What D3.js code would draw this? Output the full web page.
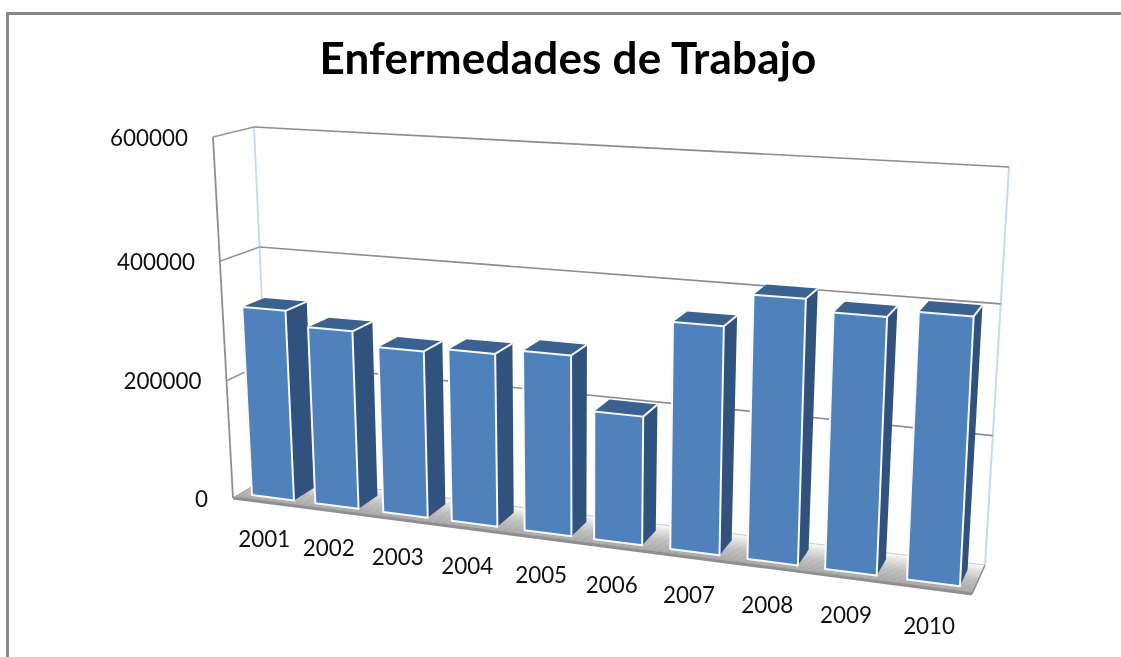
<!DOCTYPE html>
<html><head><meta charset="utf-8">
<style>html,body{margin:0;padding:0;background:#fff;overflow:hidden}svg{display:block;filter:blur(0.45px)}text{font-family:Lato,"Open Sans",sans-serif;fill:#111}</style>
<script src="https://cdn.jsdelivr.net/npm/d3@7/dist/d3.min.js"></script>
</head><body><svg id="c" width="1121" height="657"></svg>
<script>
const titleText = "Enfermedades de Trabajo";
const categories = ["2001","2002","2003","2004","2005","2006","2007","2008","2009","2010"];
const values = [320000,296000,274000,281000,290000,205000,357000,409000,392000,403000];
const yTicks = [0,200000,400000,600000];

const svg = d3.select("#c");
// Cube corners of the 3D plot box on the picture: [category side, depth, height]
const cube = {
  "000":[233,498],"100":[972,594],"110":[985,565],"010":[270,476],
  "001":[213,137],"101":[993,182],"111":[1009,167],"011":[254,127]
};
// perspective along the category axis: bar centres and half-widths as fractions of the box width
const uScale = d3.scaleLinear().domain(d3.range(categories.length))
  .range([.0444,.1315,.2249,.319,.419,.5145,.619,.725,.8315,.944]);
const halfScale = d3.scaleLinear().domain([0,categories.length-1]).range([.0286,.036]);
const hScale = d3.scaleLinear().domain(yTicks).range([0,0.325,0.656,1]);
function project(u,v,h){
  const out=[0,0];
  for(const a of [0,1])for(const b of [0,1])for(const c of [0,1]){
    const w=(a?u:1-u)*(b?v:1-v)*(c?h:1-h), p=cube[""+a+b+c];
    out[0]+=w*p[0]; out[1]+=w*p[1];
  }
  return out;
}
const poly = pts => "M"+pts.map(p=>p.join(",")).join("L")+"Z";
const seg = (a,b) => d3.line()([a,b]);

// chart border
svg.append("path").attr("d","M7.5,657V13.5H1121").attr("fill","none").attr("stroke","#868686").attr("stroke-width",2.8);

// floor strips
const floorColor = d3.scaleLinear().domain([0,0.45,0.8,1]).range(["#a4a4a4","#bdbdbd","#e2e2e2","#ffffff"]);
const steps = d3.range(0,24);
svg.append("g").selectAll("path").data(steps).join("path")
  .attr("d",s=>poly([project(0,s/24,0),project(1,s/24,0),project(1,(s+1)/24,0),project(0,(s+1)/24,0)]))
  .attr("fill",s=>floorColor(s/24)).attr("stroke",s=>floorColor(s/24)).attr("stroke-width",0.5);

// floor front rim and side
const rim = svg.append("g").attr("fill","none");
rim.append("path").attr("d",seg(project(0,0,0),project(1,0,0))).attr("stroke","#8f8f8f").attr("stroke-width",2.8);
rim.append("path").attr("d",seg(project(1,0,0),project(1,1,0))).attr("stroke","#8f8f8f").attr("stroke-width",1.6);
rim.append("path").attr("d",seg(project(0,0,0),project(0,1,0))).attr("stroke","#a8a8a8").attr("stroke-width",1.2);

// walls
const walls = svg.append("g").attr("fill","none");
walls.append("path").attr("d",seg(project(0,0,0),project(0,0,1))).attr("stroke","#8e8e8e").attr("stroke-width",1.8);
walls.append("path").attr("d",seg(project(0,1,0),project(0,1,1))).attr("stroke","#c6d9f1").attr("stroke-width",1.8);
walls.append("path").attr("d",seg(project(1,1,0),project(1,1,1))).attr("stroke","#c6d9f1").attr("stroke-width",2);
walls.append("path").attr("d",seg(project(0,1,0),project(1,1,0))).attr("stroke","#c4ccd6").attr("stroke-width",1.2);

// gridlines
const grid = svg.append("g").attr("fill","none");
grid.selectAll(".side").data(yTicks.slice(1)).join("path").attr("class","side")
  .attr("d",t=>seg(project(0,0,hScale(t)),project(0,1,hScale(t))))
  .attr("stroke","#979797").attr("stroke-width",1.6);
grid.selectAll(".back").data(yTicks.slice(1)).join("path").attr("class","back")
  .attr("d",t=>seg(project(0,1,hScale(t)),project(1,1,hScale(t))))
  .attr("stroke","#8d8d8d").attr("stroke-width",1.6);

// y tick labels
svg.append("g").selectAll("text").data(yTicks).join("text")
  .attr("x",t=>project(0,0,hScale(t))[0]-25)
  .attr("y",t=>project(0,0,hScale(t))[1]+3)
  .attr("dominant-baseline","middle").attr("text-anchor","end")
  .attr("font-size",22.4).text(d=>d);

// bars
const vFront=0.2, vBack=0.77;
const bars = svg.append("g").selectAll("g").data(categories.map((c,i)=>({c,i,v:values[i]}))).join("g");
bars.each(function(d){
  const g=d3.select(this), l=uScale(d.i)-halfScale(d.i), r=uScale(d.i)+halfScale(d.i), h=hScale(d.v);
  const fbl=project(l,vFront,0), fbr=project(r,vFront,0), ftl=project(l,vFront,h), ftr=project(r,vFront,h);
  const bbr=project(r,vBack,0), btr=project(r,vBack,h), btl=project(l,vBack,h);
  g.append("path").attr("d",poly([fbr,ftr,btr,bbr])).attr("fill","#31527c");
  g.append("path").attr("d",poly([ftl,ftr,btr,btl])).attr("fill","#3b6190");
  g.append("path").attr("d",seg(ftr,btr)).attr("stroke","#f2f6fb").attr("stroke-width",2);
  g.append("path").attr("d",poly([fbl,fbr,ftr,ftl])).attr("fill","#4f81bd")
    .attr("stroke","#f7fafd").attr("stroke-width",2).attr("stroke-linejoin","round");
});

// category labels
svg.append("g").selectAll("text").data(categories).join("text")
  .attr("x",(d,i)=>project(uScale(i),0,0)[0]-1.5)
  .attr("y",(d,i)=>project(uScale(i),0,0)[1]+39.5)
  .attr("dominant-baseline","middle").attr("text-anchor","middle")
  .attr("font-size",22.4).text(d=>d);

// title
svg.append("text").attr("x",568).attr("y",63).attr("text-anchor","middle").attr("dominant-baseline","middle")
  .attr("font-size",44).attr("font-weight",700).attr("letter-spacing",0.2).style("fill","#000").text(titleText);
</script></body></html>
